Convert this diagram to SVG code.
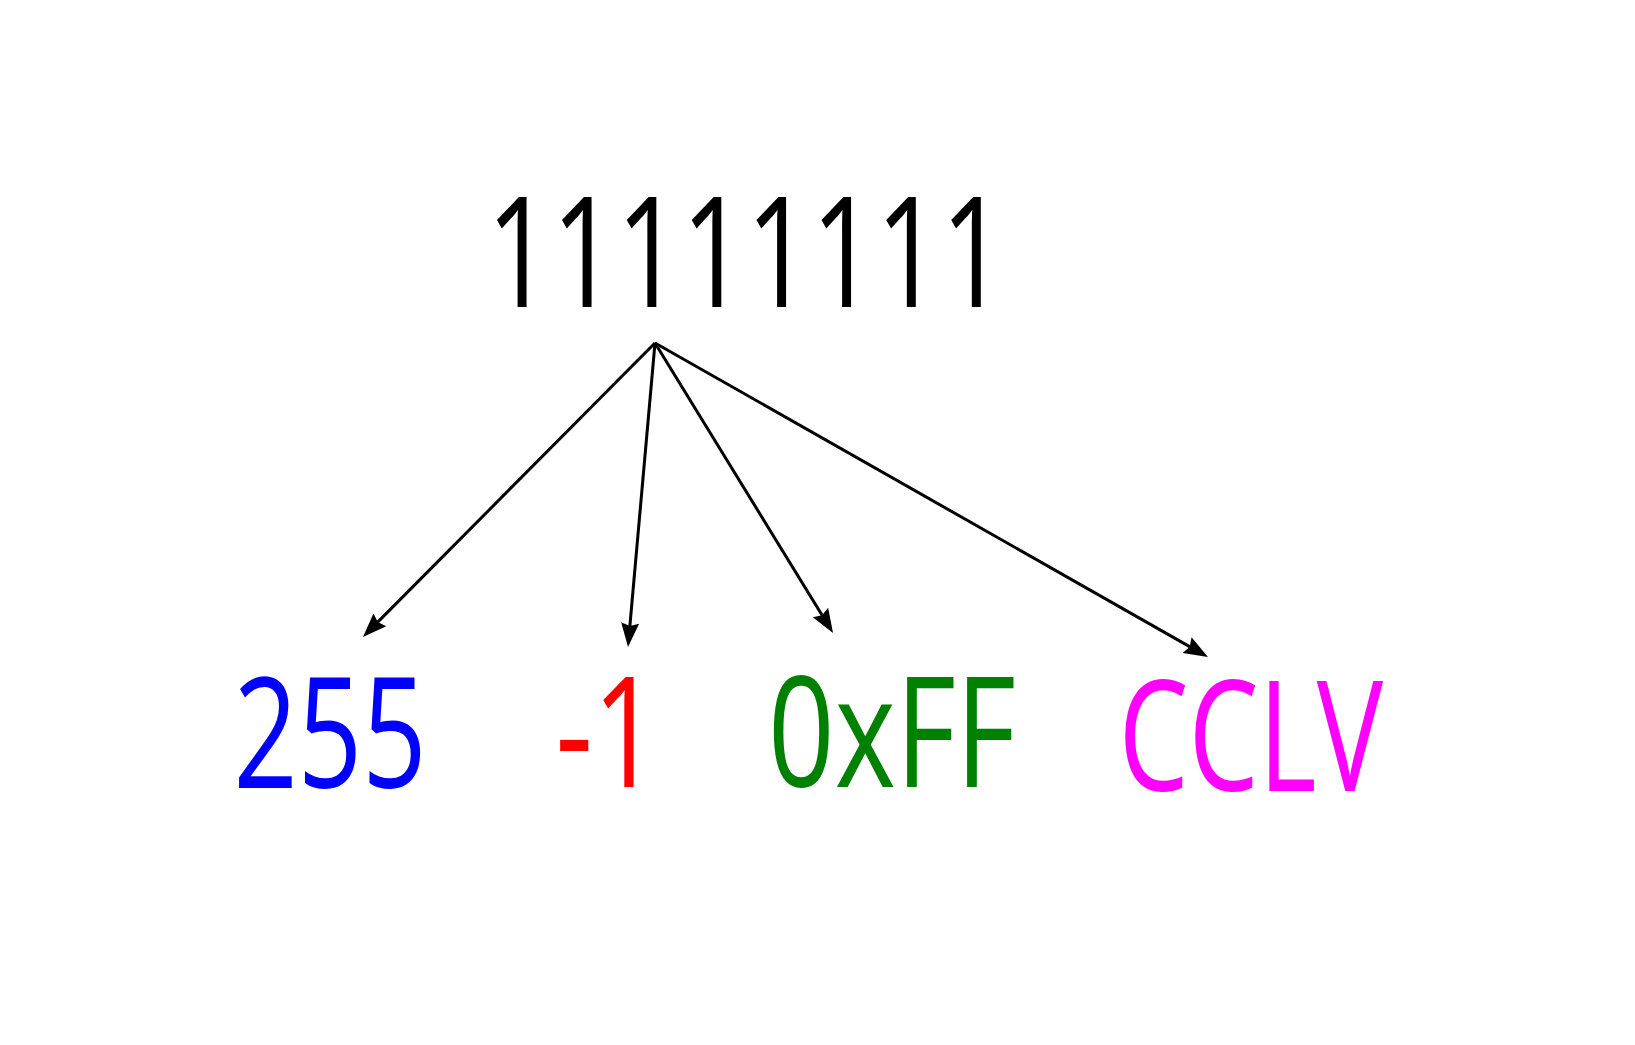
<svg xmlns="http://www.w3.org/2000/svg" width="1635" height="1045" viewBox="0 0 1635 1045">
<style>
  .t { font-family: "Open Sans", "Noto Sans", sans-serif; font-size: 153px; }
  .edge { stroke: #000; stroke-width: 3; fill: none; marker-end: url(#ah); }
</style>
<defs>
  <marker id="ah" markerUnits="userSpaceOnUse" markerWidth="30" markerHeight="24" refX="14" refY="9" orient="auto" overflow="visible">
    <path d="M0,0 L24,9 L0,18 L3,9 z" fill="#000"/>
  </marker>
</defs>
<rect width="1635" height="1045" fill="#fff"/>
<g id="node-binary">
  <text class="t" x="486.8" y="307" textLength="519" lengthAdjust="spacingAndGlyphs" fill="#000">11111111</text>
</g>
<g id="node-255">
  <text class="t" x="233.5" y="788" textLength="193" lengthAdjust="spacingAndGlyphs" fill="#0000ff">255</text>
</g>
<g id="node-minus1">
  <text class="t" x="555.4" y="787" textLength="103.7" lengthAdjust="spacingAndGlyphs" fill="#ff0000">-1</text>
</g>
<g id="node-hex">
  <text class="t" x="768" y="787" textLength="248" lengthAdjust="spacingAndGlyphs" fill="#008000">0xFF</text>
</g>
<g id="node-roman">
  <text class="t" x="1118.4" y="791" textLength="264.6" lengthAdjust="spacingAndGlyphs" fill="#ff00ff">CCLV</text>
</g>
<g id="connectors">
  <line class="edge" x1="655" y1="343" x2="370.0" y2="629.9"/>
  <line class="edge" x1="655" y1="343" x2="628.9" y2="637.0"/>
  <line class="edge" x1="655" y1="343" x2="827.8" y2="624.5"/>
  <line class="edge" x1="655" y1="343" x2="1199.3" y2="652.1"/>
</g>
</svg>
